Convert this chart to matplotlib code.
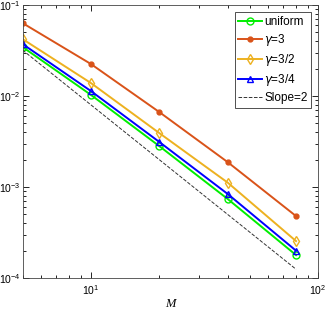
import matplotlib
matplotlib.use("Agg")
import matplotlib.pyplot as plt

# data
M = [5, 10, 20, 40, 80]
err_uniform = [0.0346, 0.0103, 0.00282, 0.00074, 0.000179]
err_g3 = [0.0634, 0.0225, 0.00667, 0.00188, 0.00048]
err_g32 = [0.0423, 0.0139, 0.00392, 0.00112, 0.000255]
err_g34 = [0.0373, 0.01135, 0.00313, 0.00084, 0.0002]
slope_ref = [0.032, 0.008, 0.002, 0.0005, 0.000125]

plt.rcParams['font.family'] = ['Liberation Sans', 'DejaVu Sans']

fig = plt.figure(figsize=(3.32, 3.16), dpi=100)
ax = fig.add_axes([0.068, 0.12, 0.890, 0.864])

ax.loglog(M, err_uniform, '-o', color='#00ee00', mfc='none', ms=5, lw=1.4, label='uniform')
ax.loglog(M, err_g3, '-o', color='#d95319', mfc='#d95319', ms=3.5, lw=1.4, label=r'$\gamma$=3')
ax.loglog(M, err_g32, '-d', color='#edb120', mfc='none', ms=5.5, lw=1.4, label=r'$\gamma$=3/2')
ax.loglog(M, err_g34, '-^', color='#0000ff', mfc='none', ms=5, lw=1.4, label=r'$\gamma$=3/4')
ax.loglog(M, slope_ref, '--', color='#333333', lw=0.7, label='Slope=2')

ax.set_xlim(5, 100)
ax.set_ylim(1e-4, 1e-1)
ax.tick_params(which='both', direction='in', top=True, right=True, labelsize=7.5, width=0.6)
ax.tick_params(axis='y', pad=1.5)
ax.tick_params(which='major', length=4)
ax.tick_params(which='minor', length=2)
for s in ax.spines.values():
    s.set_linewidth(0.6)
    s.set_color('#444444')

ax.set_xlabel('M', family='Liberation Serif', style='italic', fontsize=9, labelpad=1)

leg = ax.legend(loc='upper right', fontsize=8.5, fancybox=False, framealpha=1,
                edgecolor='#333333', handlelength=2.0, handletextpad=0.2,
                borderpad=0.3, labelspacing=0.35, borderaxespad=0.6)
leg.get_frame().set_linewidth(0.6)

fig.savefig('out.png', dpi=100)
